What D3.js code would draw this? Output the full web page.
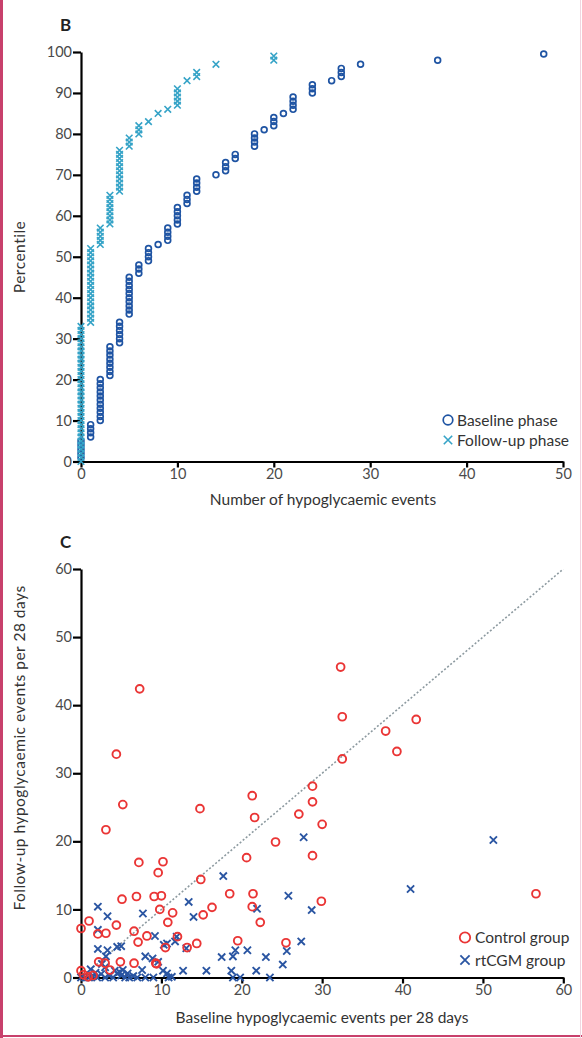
<!DOCTYPE html>
<html>
<head>
<meta charset="utf-8">
<script src="https://cdn.jsdelivr.net/npm/d3@7"></script>
<style>
  body { margin: 0; background: #fff; }
  svg text { font-family: Lato, "Open Sans", sans-serif; }
  .axis path, .axis line { stroke: #000; stroke-width: 2.2; }
  .axis text { font-size: 14.5px; fill: #4a4a4a; }
  .title { font-size: 15.5px; fill: #333; }
  .ytitle { letter-spacing: 0.5px; }
  .panel { font-size: 17px; font-weight: bold; fill: #222; }
</style>
</head>
<body>
<div id="chart"></div>
<script>
// panel B: number of events -> percentiles of participants stacked at that count
var baselineGroups = [
    [0, [1, 2, 3, 4, 5]],
    [1, [6, 7, 8, 9]],
    [2, [10, 11, 12, 13, 14, 15, 16, 17, 18, 19, 20]],
    [3, [21, 22, 23, 24, 25, 26, 27, 28]],
    [4, [29, 30, 31, 32, 33, 34]],
    [5, [36, 37, 38, 39, 40, 41, 42, 43, 44, 45]],
    [6, [46, 47, 48]],
    [7, [49, 50, 51, 52]],
    [8, [53]],
    [9, [54, 55, 56, 57]],
    [10, [58, 59, 60, 61, 62]],
    [11, [63, 64, 65]],
    [12, [66, 67, 68, 69]],
    [14, [70]],
    [15, [71, 72, 73]],
    [16, [74, 75]],
    [18, [77, 78, 79, 80]],
    [19, [81]],
    [20, [82, 83, 84]],
    [21, [85]],
    [22, [86, 87, 88, 89]],
    [24, [90, 91, 92]],
    [26, [93]],
    [27, [94, 95, 96]],
    [29, [97]],
    [37, [98]],
    [48, [99.5]]
];

var followupGroups = [
    [0, [0, 1, 2, 3, 4, 5, 6, 7, 8, 9, 10, 11, 12, 13, 14, 15, 16, 17, 18, 19, 20,
         21, 22, 23, 24, 25, 26, 27, 28, 29, 30, 31, 32, 33]],
    [1, [34, 35, 36, 37, 38, 39, 40, 41, 42, 43, 44, 45, 46, 47, 48, 49, 50, 51, 52]],
    [2, [53, 54, 55, 56, 57]],
    [3, [58, 59, 60, 61, 62, 63, 64, 65]],
    [4, [66, 67, 68, 69, 70, 71, 72, 73, 74, 75, 76]],
    [5, [77, 78, 79]],
    [6, [80, 81, 82]],
    [7, [83]],
    [8, [85]],
    [9, [86]],
    [10, [87, 88, 89, 90, 91]],
    [11, [93]],
    [12, [94, 95]],
    [14, [97]],
    [20, [98, 99]]
];

// panel C: [baseline, follow-up] events per 28 days
var controlGroup = [
    [0, 1.0], [0.9, 0.1], [0.3, 0.4], [1.5, 0.3], [2.2, 2.3], [3.0, 2.1], [3.6, 1.1],
    [4.9, 2.3], [6.6, 2.1], [9.4, 2.0], [2.1, 6.4], [3.1, 6.5], [4.4, 7.7], [6.6, 6.8],
    [8.2, 6.1], [7.1, 5.2], [10.5, 4.4], [12.0, 6.0], [13.2, 4.4], [14.4, 5.0],
    [19.5, 5.4], [25.5, 5.1], [0, 7.2], [1.0, 8.3], [10.8, 8.1], [9.8, 10.0],
    [11.4, 9.5], [15.2, 9.2], [16.3, 10.3], [21.3, 10.4], [22.3, 8.1], [5.1, 11.5],
    [6.9, 11.9], [9.1, 11.9], [10.0, 12.0], [18.5, 12.3], [21.4, 12.3], [14.9, 14.4],
    [9.6, 15.4], [7.2, 16.9], [10.2, 17.0], [20.6, 17.6], [24.2, 19.9], [3.1, 21.7],
    [21.6, 23.5], [14.8, 24.8], [5.2, 25.4], [21.3, 26.7], [27.1, 24.0], [28.8, 28.1],
    [28.8, 25.8], [30.0, 22.5], [28.8, 17.9], [29.9, 11.2], [56.6, 12.3], [32.5, 32.1],
    [32.5, 38.3], [32.3, 45.6], [37.9, 36.2], [39.3, 33.2], [41.7, 37.9], [4.4, 32.8],
    [7.3, 42.4], [9.3, 2.1]
];

var rtcgmGroup = [
    [2.1, 10.4], [3.3, 9.0], [7.7, 9.4], [13.4, 11.1], [14.0, 8.9], [17.7, 14.9],
    [25.8, 12.0], [21.9, 10.1], [2.1, 7.0], [9.2, 6.1], [10.7, 5.0], [11.7, 5.3],
    [11.9, 6.0], [13.1, 4.3], [2.1, 4.2], [3.3, 4.0], [4.5, 4.5], [5.0, 4.6],
    [3.1, 3.1], [8.0, 3.1], [8.9, 2.8], [9.6, 2.3], [10.3, 4.8], [17.5, 3.0],
    [18.9, 3.1], [19.2, 4.0], [20.7, 4.0], [23.0, 3.0], [25.1, 1.9], [25.6, 3.9],
    [27.4, 5.3], [28.7, 9.9], [27.7, 20.6], [51.3, 20.2], [41.0, 13.0], [7.6, 1.1],
    [12.7, 1.0], [15.6, 1.0], [18.7, 1.0], [21.8, 1.0], [10.2, 1.0], [23.5, 0],
    [18.9, 0], [19.8, 0], [10.9, 0], [11.3, 0.1], [10.7, 0.6],
    [0, 0], [0.5, 0], [1.0, 0], [1.5, 0.2], [2.0, 0], [2.5, 0.5], [3.0, 0],
    [3.5, 0.3], [4.0, 0], [4.5, 0.6], [5.0, 0.3], [5.5, 0], [6.0, 0], [6.5, 0.2],
    [7.0, 0], [8.0, 0], [9.0, 0], [1.8, 0.7], [4.2, 1.0], [5.2, 1.1], [4.8, 0.8],
    [5.8, 0.6], [3.0, 1.5], [1.2, 1.2], [2.6, 2.0]
];

var ticksB_y = [0, 10, 20, 30, 40, 50, 60, 70, 80, 90, 100];
var ticksB_x = [0, 10, 20, 30, 40, 50];
var ticksC = [0, 10, 20, 30, 40, 50, 60];

var width = 582, height = 1038;

var svg = d3.select('#chart')
    .append('svg')
    .attr('width', width)
    .attr('height', height);

// frame
svg.append('line').attr('x1', 1.5).attr('y1', 0).attr('x2', 1.5).attr('y2', 1038)
    .attr('stroke', '#c8406c').attr('stroke-width', 3);
svg.append('line').attr('x1', 0).attr('y1', 1036).attr('x2', 582).attr('y2', 1036)
    .attr('stroke', '#c8406c').attr('stroke-width', 2);
svg.append('line').attr('x1', 580.5).attr('y1', 0).attr('x2', 580.5).attr('y2', 1038)
    .attr('stroke', '#f0d6e0').attr('stroke-width', 1);

var crossPath = function(s) {
    return 'M' + (-s) + ',' + (-s) + 'L' + s + ',' + s + 'M' + s + ',' + (-s) + 'L' + (-s) + ',' + s;
};

function flatten(groups) {
    var out = [];
    groups.forEach(function(g) {
        g[1].forEach(function(p) { out.push({x: g[0], y: p}); });
    });
    return out;
}

// ---------- panel B ----------
var xB = d3.scaleLinear().domain([0, 50]).range([81, 563]);
var yB = d3.scaleLinear().domain([0, 100]).range([461.5, 52]);

svg.append('g')
    .classed('axis', true)
    .attr('transform', 'translate(81,0)')
    .call(d3.axisLeft(yB).tickValues(ticksB_y).tickSize(8).tickSizeOuter(0).tickPadding(1));

svg.append('g')
    .classed('axis', true)
    .attr('transform', 'translate(0,461.5)')
    .call(d3.axisBottom(xB).tickValues(ticksB_x).tickSize(6).tickSizeOuter(0).tickPadding(1));

svg.append('text').classed('panel', true).attr('x', 60).attr('y', 31).text('B');

svg.append('text').classed('title ytitle', true)
    .attr('text-anchor', 'middle')
    .attr('transform', 'translate(25,257) rotate(-90)')
    .text('Percentile');

svg.append('text').classed('title', true)
    .attr('text-anchor', 'middle')
    .attr('x', 323).attr('y', 505)
    .text('Number of hypoglycaemic events');

svg.append('g')
    .selectAll('circle')
    .data(flatten(baselineGroups))
    .enter()
    .append('circle')
    .attr('cx', function(d) { return xB(d.x); })
    .attr('cy', function(d) { return yB(d.y); })
    .attr('r', 2.9)
    .attr('fill', 'none')
    .attr('stroke', '#1f54a3')
    .attr('stroke-width', 1.7);

svg.append('g')
    .selectAll('path')
    .data(flatten(followupGroups))
    .enter()
    .append('path')
    .attr('transform', function(d) { return 'translate(' + xB(d.x) + ',' + yB(d.y) + ')'; })
    .attr('d', crossPath(3.3))
    .attr('stroke', '#35a3c7')
    .attr('stroke-width', 1.6);

// legend B
svg.append('circle').attr('cx', 448).attr('cy', 420).attr('r', 4.8)
    .attr('fill', 'none').attr('stroke', '#1f54a3').attr('stroke-width', 1.7);
svg.append('path').attr('transform', 'translate(448,440)').attr('d', crossPath(4.2))
    .attr('stroke', '#35a3c7').attr('stroke-width', 1.6);
svg.append('text').classed('title', true).attr('x', 457).attr('y', 425.5).text('Baseline phase');
svg.append('text').classed('title', true).attr('x', 457).attr('y', 445.5).text('Follow-up phase');

// ---------- panel C ----------
var xC = d3.scaleLinear().domain([0, 60]).range([81, 563.3]);
var yC = d3.scaleLinear().domain([0, 60]).range([977.5, 569]);

svg.append('g')
    .classed('axis', true)
    .attr('transform', 'translate(81,0)')
    .call(d3.axisLeft(yC).tickValues(ticksC).tickSize(8).tickSizeOuter(0).tickPadding(1));

svg.append('g')
    .classed('axis', true)
    .attr('transform', 'translate(0,977.5)')
    .call(d3.axisBottom(xC).tickValues(ticksC).tickSize(6).tickSizeOuter(0).tickPadding(1));

svg.append('text').classed('panel', true).attr('x', 60).attr('y', 548).text('C');

svg.append('text').classed('title ytitle', true)
    .attr('text-anchor', 'middle')
    .attr('transform', 'translate(25,748) rotate(-90)')
    .text('Follow-up hypoglycaemic events per 28 days');

svg.append('text').classed('title', true)
    .attr('text-anchor', 'middle')
    .attr('x', 322).attr('y', 1023)
    .text('Baseline hypoglycaemic events per 28 days');

svg.append('line')
    .attr('x1', xC(0)).attr('y1', yC(0))
    .attr('x2', xC(60)).attr('y2', yC(60))
    .attr('stroke', '#8d9aa0')
    .attr('stroke-width', 1.6)
    .attr('stroke-dasharray', '2,2');

svg.append('g')
    .selectAll('path')
    .data(rtcgmGroup)
    .enter()
    .append('path')
    .attr('transform', function(d) { return 'translate(' + xC(d[0]) + ',' + yC(d[1]) + ')'; })
    .attr('d', crossPath(3.6))
    .attr('stroke', '#2a55a2')
    .attr('stroke-width', 1.9);

svg.append('g')
    .selectAll('circle')
    .data(controlGroup)
    .enter()
    .append('circle')
    .attr('cx', function(d) { return xC(d[0]); })
    .attr('cy', function(d) { return yC(d[1]); })
    .attr('r', 3.9)
    .attr('fill', 'none')
    .attr('stroke', '#ea3535')
    .attr('stroke-width', 1.9);

// legend C
svg.append('circle').attr('cx', 465).attr('cy', 937.5).attr('r', 5.2)
    .attr('fill', 'none').attr('stroke', '#ea3535').attr('stroke-width', 1.8);
svg.append('path').attr('transform', 'translate(465,960)').attr('d', crossPath(4.6))
    .attr('stroke', '#2a55a2').attr('stroke-width', 1.8);
svg.append('text').classed('title', true).attr('x', 475).attr('y', 943).text('Control group');
svg.append('text').classed('title', true).attr('x', 475).attr('y', 965.5).text('rtCGM group');
</script>
</body>
</html>
